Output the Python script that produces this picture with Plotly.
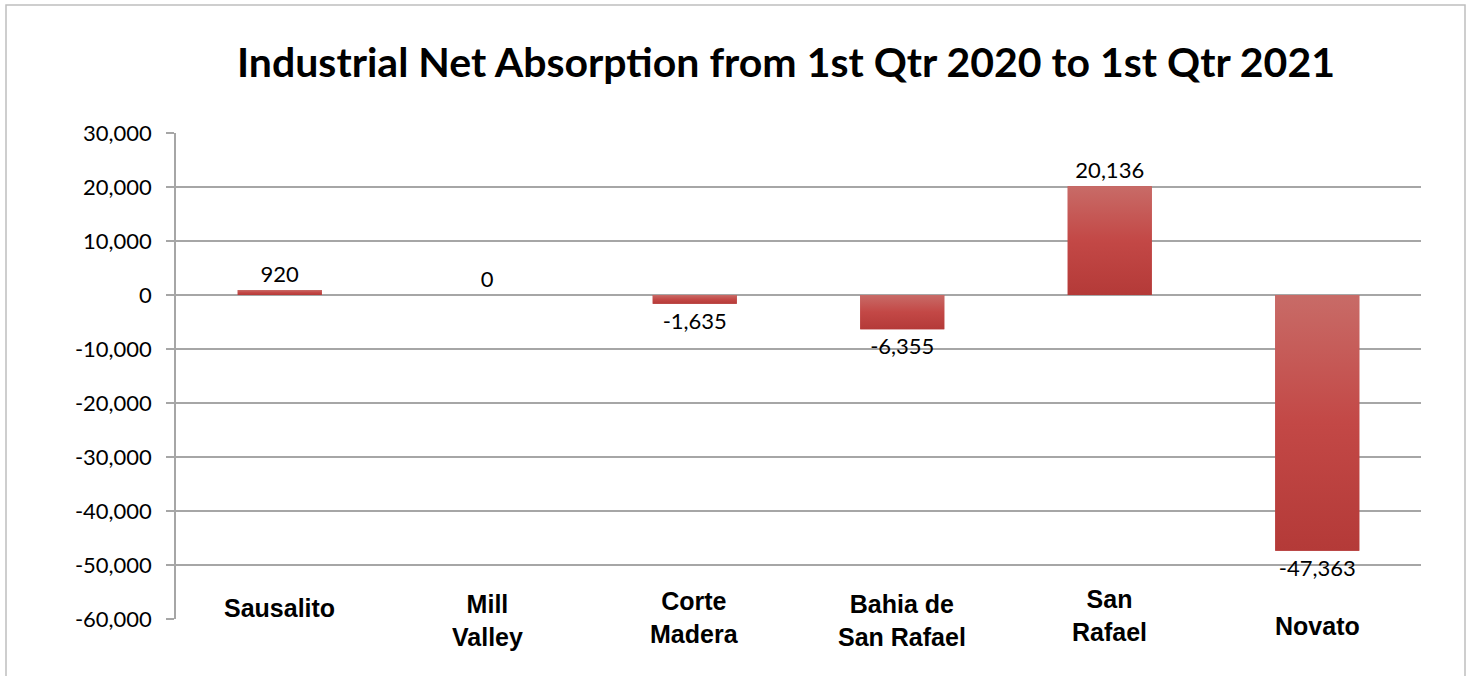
import plotly.graph_objects as go

categories = ["Sausalito", "Mill Valley", "Corte Madera", "Bahia de San Rafael", "San Rafael", "Novato"]
category_labels = ["Sausalito", "Mill<br>Valley", "Corte<br>Madera", "Bahia de<br>San Rafael", "San<br>Rafael", "Novato"]
net_absorption = [920, 0, -1635, -6355, 20136, -47363]
tick_values = [30000, 20000, 10000, 0, -10000, -20000, -30000, -40000, -50000, -60000]
tick_labels = ["30,000", "20,000", "10,000", "0", "-10,000", "-20,000", "-30,000", "-40,000", "-50,000", "-60,000"]
title_text = "Industrial Net Absorption from 1st Qtr 2020 to 1st Qtr 2021"

# label vertical offsets (pixels) relative to the axis bottom
label_shift = [11, -1, 2, -1, 4, -7]

W, H = 1470, 676
L, R, T, B = 176, 49, 133, 57
pw, ph = W - L - R, H - T - B
BAR_W = 0.405

fig = go.Figure()
fig.add_trace(go.Bar(
    x=categories,
    y=net_absorption,
    width=BAR_W,
    marker=dict(color="#C04747", line=dict(width=0)),
    text=[f"{v:,}" for v in net_absorption],
    textposition="outside",
    textfont=dict(family="Lato, Open Sans, sans-serif", size=22, color="#000000"),
    cliponaxis=False,
    hoverinfo="x+y",
))

# gradient overlay for each bar, derived from the same values
for i, v in enumerate(net_absorption):
    if v == 0:
        continue
    x0, x1 = i - BAR_W / 2, i + BAR_W / 2
    fig.add_trace(go.Scatter(
        x=[x0, x1, x1, x0, x0], y=[0, 0, v, v, 0],
        xaxis="x2", mode="lines", line=dict(width=0), fill="toself",
        fillgradient=dict(type="vertical", colorscale=[[0, "#B43A38"], [0.5, "#C34846"], [1, "#C86B67"]]),
        hoverinfo="skip", showlegend=False,
    ))

annotations = [
    dict(text=f"<b>{title_text}</b>", xref="paper", yref="paper",
         x=(786 - L) / pw, y=(H - B - 62) / ph, xanchor="center", yanchor="middle",
         showarrow=False, font=dict(family="Lato, sans-serif", size=41, color="#000000")),
]
for cat, lab, sh in zip(categories, category_labels, label_shift):
    annotations.append(dict(
        text=f"<b>{lab}</b>", x=cat, y=-60000, xref="x", yref="y",
        xanchor="center", yanchor="middle", yshift=sh, showarrow=False,
        font=dict(family="Liberation Sans Narrow, Arial Narrow, Liberation Sans, sans-serif", size=25, color="#000000"),
    ))

fig.update_layout(
    width=W, height=H,
    margin=dict(l=L, r=R, t=T, b=B),
    paper_bgcolor="white", plot_bgcolor="white",
    showlegend=False,
    annotations=annotations,
    xaxis=dict(range=[-0.5, len(categories) - 0.5], showticklabels=False, showgrid=False,
               zeroline=False, showline=False, ticks=""),
    xaxis2=dict(overlaying="x", range=[-0.5, len(categories) - 0.5], visible=False),
    shapes=[dict(type="rect", xref="paper", yref="paper",
                 x0=(6 - L) / pw, x1=(1465 - L) / pw,
                 y0=(H - B - 690) / ph, y1=(H - B - 5) / ph,
                 line=dict(color="#bfbfbf", width=1.5), fillcolor="rgba(0,0,0,0)", layer="below")],
)
fig.update_yaxes(
    range=[-60000, 30000], tickvals=tick_values, ticktext=tick_labels,
    showgrid=True, gridcolor="#a6a6a6", gridwidth=1.5, zeroline=False,
    showline=True, linecolor="#a6a6a6", linewidth=1.5,
    ticks="outside", ticklen=8, tickcolor="#a6a6a6", tickwidth=1.5,
    ticklabelstandoff=10,
    tickfont=dict(family="Lato, Open Sans, sans-serif", size=22, color="#000000"),
)

fig.write_html("out.html", config={"displayModeBar": False},
               post_script="document.body.style.margin='0';")
